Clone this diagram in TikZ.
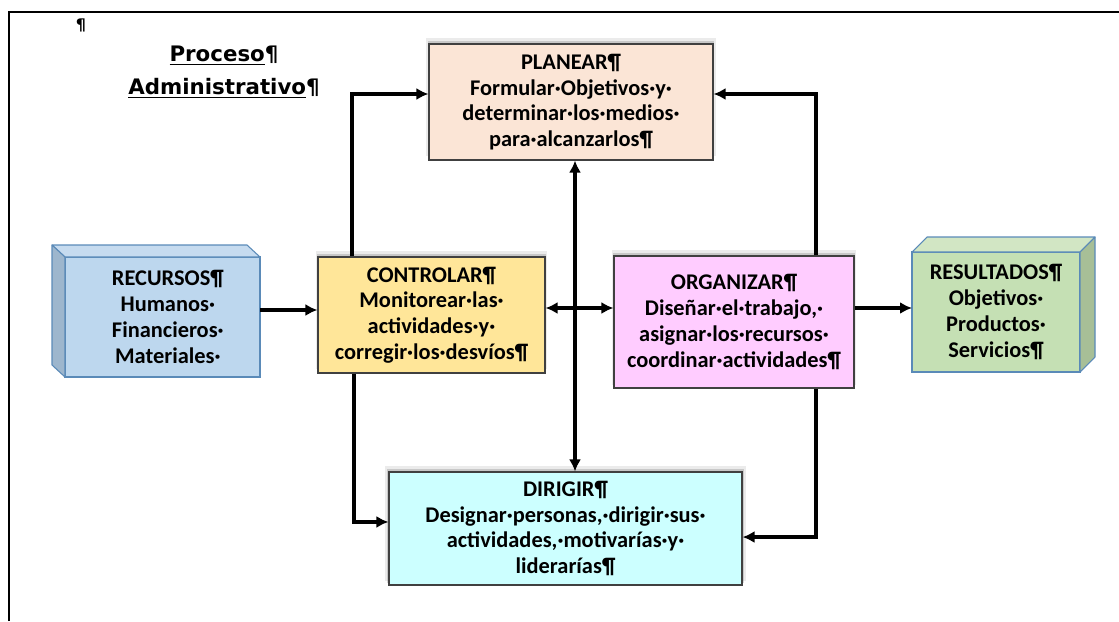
\documentclass[tikz,border=0pt]{standalone}
\usepackage{fontspec}
\setmainfont{Carlito}
\newfontfamily\titlefont{DejaVu Sans}
\usetikzlibrary{
  arrows.meta,
  shadows
}
\definecolor{planearfill}{HTML}{FBE5D6}
\definecolor{controlarfill}{HTML}{FFE699}
\definecolor{organizarfill}{HTML}{FFCCFF}
\definecolor{dirigirfill}{HTML}{CCFFFF}
\definecolor{recursosfill}{HTML}{BDD7EE}
\definecolor{recursosside}{HTML}{9DB6CD}
\definecolor{recursostop}{HTML}{C6DBEF}
\definecolor{resultadosfill}{HTML}{C5E0B4}
\definecolor{resultadosside}{HTML}{A7BF97}
\definecolor{resultadostop}{HTML}{D2E6C4}
\definecolor{boxline}{HTML}{404040}
\definecolor{blockline}{HTML}{5A8AB8}
\newcommand\boxfont{\bfseries\fontsize{16.8pt}{19.3pt}\selectfont}
\tikzset{
  % For the page frame.
  frame/.style={
    line width=2pt},
%
  % For connectors.
  line/.style={
    line width=3pt},
%
  % For connectors with one arrow.
  arrow/.style={
    line,
    -{Latex[length=9pt,width=9pt]}},
%
  % For connectors with two arrows.
  both arrow/.style={
    line,
    {Latex[length=9pt,width=9pt]}-{Latex[length=9pt,width=9pt]}},
%
  % For the four process boxes.  Two faint shadows give a soft edge.
  process/.style={
    draw=boxline,
    line width=0.8pt,
    inner sep=0pt,
    align=center,
    font=\boxfont,
    general shadow={shadow xshift=0pt, shadow yshift=3.5pt,
                    shadow scale=1.02, fill=black, opacity=0.08},
    general shadow={shadow xshift=0pt, shadow yshift=2pt,
                    shadow scale=1.01, fill=black, opacity=0.15}},
%
  % For the front face of the two 3-D boxes.
  block/.style={
    draw=blockline,
    line width=0.8pt,
    inner sep=0pt,
    outer sep=0pt,
    align=center,
    font=\boxfont},
%
  % For the side faces of the 3-D boxes.
  face/.style={
    draw=blockline,
    line width=0.8pt,
    line join=round},
%
  % For the heading.
  heading/.style={
    font={\titlefont\bfseries\fontsize{16pt}{24.75pt}\selectfont},
    align=center,
    inner sep=0pt}
}

\begin{document}
\begin{tikzpicture}[x=0.75pt,y=-0.75pt]
  \useasboundingbox (0,0) rectangle (1119,621);

  \draw[frame] (9,621) |- (1119,12);
  \node[inner sep=0pt,
        font={\titlefont\bfseries\fontsize{12pt}{14pt}\selectfont}]
    (mark) at (81,25) {¶};
  \node[heading] (title) at (224,72)
    {\underline{Proceso}¶\\\underline{Administrativo}¶};

  % Process boxes.
  \node[process, fill=planearfill,
        minimum width=213pt, minimum height=87pt] (planear) at (571,102)
    {PLANEAR¶\\Formular·Objetivos·y·\\determinar·los·medios·\\para·alcanzarlos¶};
  \node[process, fill=controlarfill,
        minimum width=170.25pt, minimum height=87pt] (controlar) at (431.5,315)
    {CONTROLAR¶\\Monitorear·las·\\actividades·y·\\corregir·los·desvíos¶};
  \node[process, fill=organizarfill,
        minimum width=180pt, minimum height=99pt] (organizar) at (734,322)
    {ORGANIZAR¶\\Diseñar·el·trabajo,·\\asignar·los·recursos·\\coordinar·actividades¶};
  \node[process, fill=dirigirfill,
        minimum width=264.75pt, minimum height=84.75pt] (dirigir) at (565.5,528.5)
    {DIRIGIR¶\\Designar·personas,·dirigir·sus·\\actividades,·motivarías·y·\\liderarías¶};

  % 3-D boxes: front face first, then the side faces.
  \node[block, fill=recursosfill,
        minimum width=146.25pt, minimum height=90pt] (recursos) at (162.5,317)
    {\hspace*{8pt}RECURSOS¶\\\hspace*{8pt}Humanos·\\\hspace*{8pt}Financieros·\\\hspace*{8pt}Materiales·};
  \draw[face, fill=recursostop]
    (recursos.north west) -- ++(-13,-12)
    -- ([shift={(-13,-12)}]recursos.north east) -- (recursos.north east) -- cycle;
  \draw[face, fill=recursosside]
    (recursos.north west) -- ++(-13,-12)
    -- ([shift={(-13,-12)}]recursos.south west) -- (recursos.south west) -- cycle;

  \node[block, fill=resultadosfill,
        minimum width=126pt, minimum height=90pt] (resultados) at (996,312)
    {RESULTADOS¶\\Objetivos·\\Productos·\\Servicios¶};
  \draw[face, fill=resultadostop]
    (resultados.north west) -- ++(15,-15)
    -- ([shift={(15,-15)}]resultados.north east) -- (resultados.north east) -- cycle;
  \draw[face, fill=resultadosside]
    (resultados.north east) -- ++(15,-15)
    -- ([shift={(15,-15)}]resultados.south east) -- (resultados.south east) -- cycle;

  % Connectors.
  \coordinate (ctl in) at ([yshift=3.75pt]controlar.west);
  \coordinate (ctl out) at ([yshift=5.25pt]controlar.east);
  \coordinate (pla out) at ([xshift=3pt]planear.south);
  \coordinate (res in) at ([yshift=3pt]resultados.west);

  \draw[arrow] (recursos.east |- ctl in) -- (ctl in);
  \draw[arrow] ([xshift=26.25pt]controlar.north west) |- ([yshift=6pt]planear.west);
  \draw[arrow] ([xshift=-29.25pt]organizar.north east) |- ([yshift=6pt]planear.east);
  \draw[both arrow] (pla out) -- (pla out |- dirigir.north);
  \draw[both arrow] (ctl out) -- (ctl out -| organizar.west);
  \draw[arrow] (organizar.east |- res in) -- (res in);
  \draw[arrow] ([xshift=27.75pt]controlar.south west) |- ([yshift=4.9pt]dirigir.west);
  \draw[arrow] ([xshift=-29.25pt]organizar.south east) |- ([yshift=-6.4pt]dirigir.east);
\end{tikzpicture}
\end{document}
